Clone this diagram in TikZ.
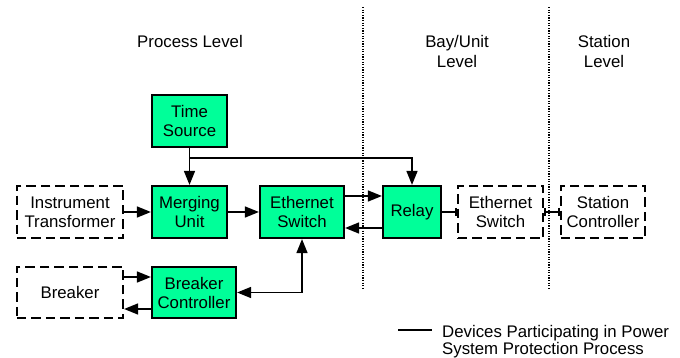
\documentclass[tikz,border=0pt]{standalone}
\usepackage{fontspec}
\setmainfont{Liberation Sans}
\usetikzlibrary{arrows.meta}
\definecolor{mint}{RGB}{0,255,153}
\begin{document}
\begin{tikzpicture}[x=1pt,y=-1pt,
  every node/.style={font=\fontsize{16.8}{19}\selectfont},
  gbox/.style={draw=black, line width=1.7pt, fill=mint, minimum height=52.5pt, inner sep=0pt, align=center},
  dbox/.style={draw=black, line width=1.7pt, dash pattern=on 9.5pt off 5pt, minimum height=52.5pt, inner sep=0pt, align=center},
  conn/.style={line width=1.5pt, -{Triangle[length=14pt,width=11pt]}},
  conn2/.style={line width=1.5pt, {Triangle[length=14pt,width=11pt]}-{Triangle[length=14pt,width=11pt]}},
  barend/.style={line width=1.5pt, -{Bar[width=8pt]}},
  barboth/.style={line width=1.5pt, {Bar[width=8pt]}-{Bar[width=8pt]}},
  divider/.style={line width=1.4pt, dash pattern=on 1.2pt off 1.4pt},
  lbl/.style={font=\fontsize{16.8}{20}\selectfont, inner sep=0pt},
]
\useasboundingbox (0,0) rectangle (680,358);

% boxes
\node[gbox, minimum width=75.5pt] (ts) at (189.5,121) {Time\\Source};
\node[dbox, minimum width=106.5pt] (it) at (70,212) {Instrument\\Transformer};
\node[gbox, minimum width=75.5pt] (mu) at (189.5,212) {Merging\\Unit};
\node[gbox, minimum width=84.5pt] (es) at (302,212) {Ethernet\\Switch};
\node[gbox, minimum width=58.5pt] (relay) at (412,212) {Relay};
\node[dbox, minimum width=85.5pt] (des) at (500.5,212) {Ethernet\\Switch};
\node[dbox, minimum width=84.5pt] (sc) at (603,212) {Station\\Controller};
\node[dbox, minimum width=106.5pt, minimum height=51.5pt] (br) at (70,292.5) {Breaker};
\node[gbox, minimum width=84.5pt, minimum height=51.5pt] (bc) at (194,292.5) {Breaker\\Controller};

% connectors
\coordinate (tap) at (189.5,158);
\draw[conn] (ts) -- (mu);
\draw[conn] (tap) -| (relay.north);
\draw[conn] (it) -- (mu);
\draw[conn] (mu) -- (es);
\draw[conn] ([yshift=16pt]es.east) -- ([yshift=16pt]relay.west);
\draw[conn] ([yshift=-16pt]relay.west) -- ([yshift=-16pt]es.east);
\draw[barend] (relay.east) -- (des.west);
\draw[barboth] (des.east) -- (sc.west);
\draw[conn] ([yshift=15.5pt]br.east) -- ([yshift=15.5pt]bc.west);
\draw[conn] ([yshift=-16.5pt]bc.west) -- ([yshift=-16.5pt]br.east);
\draw[conn2] (bc.east) -| (es.south);

% level dividers
\coordinate (d1t) at (363,7);
\coordinate (d1b) at (363,288);
\coordinate (d2t) at (549,7);
\coordinate (d2b) at (549,288);
\draw[divider] (d1t) -- (d1b);
\draw[divider] (d2t) -- (d2b);

% level labels
\node[lbl, anchor=base] (pl) at (190,48) {Process Level};
\node[lbl, anchor=base] (bl) at (457,48) {\begin{tabular}[t]{@{}c@{}}Bay/Unit\\Level\end{tabular}};
\node[lbl, anchor=base] (sl) at (604,48) {\begin{tabular}[t]{@{}c@{}}Station\\Level\end{tabular}};

% legend
\coordinate (l1) at (398,330);
\coordinate (l2) at (432,330);
\draw[line width=1.5pt] (l1) -- (l2);
\node[anchor=base west, inner sep=0pt, font=\fontsize{16.8}{17.5}\selectfont] (leg) at (442,337) {\begin{tabular}[t]{@{}l@{}}Devices Participating in Power\\System Protection Process\end{tabular}};
\end{tikzpicture}
\end{document}
